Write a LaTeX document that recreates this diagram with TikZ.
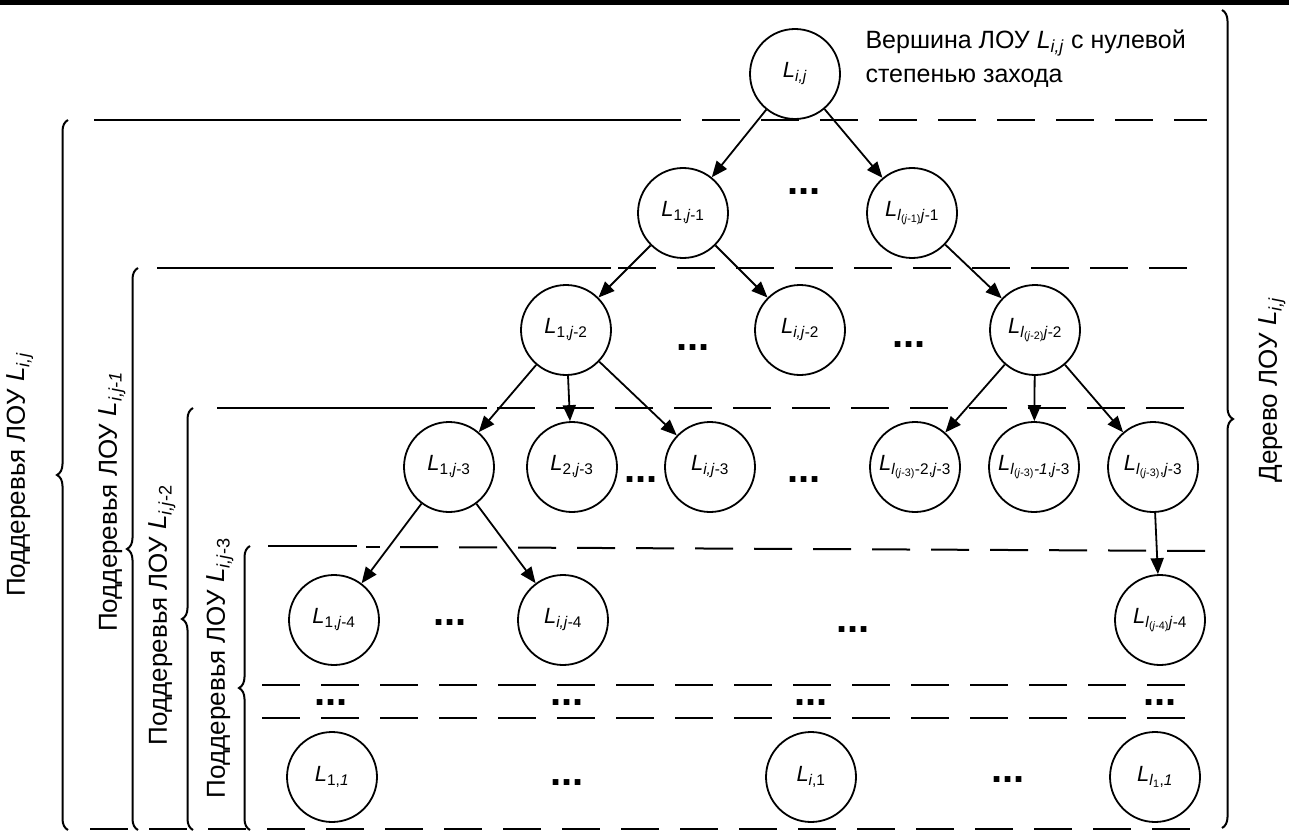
\documentclass[tikz,border=0pt]{standalone}
\usepackage{fontspec}
\setmainfont{Liberation Sans}
\usetikzlibrary{arrows.meta,decorations.pathreplacing}

\newcommand{\Lv}[1]{\textit{L}\textsubscript{#1}}

\begin{document}
\begin{tikzpicture}[x=1pt,y=-1pt,
    vert/.style={draw,circle,line width=1.8pt,minimum size=90pt,inner sep=0pt,font=\fontsize{22}{24}\selectfont},
    edge/.style={line width=1.8pt,-{Triangle[length=16pt,width=13pt]}},
    lvl/.style={line width=2pt,dash pattern=on 38pt off 21pt},
    sep/.style={line width=2pt},
    brc/.style={line width=2pt,decorate,decoration={brace,amplitude=11pt}},
    lbl/.style={rotate=90,font=\fontsize{26}{30}\selectfont},
    dots/.style={font=\fontsize{40}{40}\selectfont\bfseries,inner sep=0pt,anchor=base}]
    \useasboundingbox (0,0) rectangle (1289,834);
    \fill (0,0) rectangle (1289,5);

    \node[vert] (Lij) at (795,74) {\Lv{\textit{i,j}}};
    \node[anchor=north west,align=left,font=\fontsize{25}{34}\selectfont] (top) at (862,26)
        {Вершина ЛОУ \Lv{\textit{i,j}} с нулевой\\степенью захода};

    \node[vert] (L1j1) at (683,213) {\Lv{1,\textit{j}-1}};
    \node[vert] (Llj1) at (912,213) {\Lv{\textit{l}\textsubscript{(\textit{j}-1)}\textit{j}-1}};
    \node[dots] (d1) at (804,195) {...};

    \node[vert] (L1j2) at (566,330) {\Lv{1,\textit{j}-2}};
    \node[vert] (Lij2) at (800,330) {\Lv{\textit{i,j}-2}};
    \node[vert] (Llj2) at (1035,330) {\Lv{\textit{l}\textsubscript{(\textit{j}-2)}\textit{j}-2}};
    \node[dots] (d2) at (693,350) {...};
    \node[dots] (d3) at (909,347) {...};

    \node[vert] (L1j3) at (449,467) {\Lv{1,\textit{j}-3}};
    \node[vert] (L2j3) at (572,467) {\Lv{2,\textit{j}-3}};
    \node[vert] (Lij3) at (710,467) {\Lv{\textit{i,j}-3}};
    \node[vert] (Ll2j3) at (915,467) {\Lv{\textit{l}\textsubscript{(\textit{j}-3)}-2,\textit{j}-3}};
    \node[vert] (Ll1j3) at (1034,467) {\Lv{\textit{l}\textsubscript{(\textit{j}-3)}\textit{-1},\textit{j}-3}};
    \node[vert] (Llj3) at (1153,467) {\Lv{\textit{l}\textsubscript{(\textit{j}-3)},\textit{j}-3}};
    \node[dots] (d4) at (641,482) {...};
    \node[dots] (d5) at (804,482) {...};

    \node[vert] (L1j4) at (334,620) {\Lv{1,\textit{j}-4}};
    \node[vert] (Lij4) at (563,620) {\Lv{\textit{i,j}-4}};
    \node[vert] (Llj4) at (1160,620) {\Lv{\textit{l}\textsubscript{(\textit{j}-4)}\textit{j}-4}};
    \node[dots] (d6) at (450,625) {...};
    \node[dots] (d7) at (853,632) {...};

    \node[dots] (d8) at (331,705) {...};
    \node[dots] (d9) at (567,705) {...};
    \node[dots] (d10) at (811,705) {...};
    \node[dots] (d11) at (1160,705) {...};

    \node[vert] (L11) at (332,777) {\Lv{1,\textit{1}}};
    \node[vert] (Li1) at (811,777) {\Lv{\textit{i},1}};
    \node[vert] (Ll1) at (1155,777) {\Lv{\textit{l}\textsubscript{1},\textit{1}}};
    \node[dots] (d12) at (567,785) {...};
    \node[dots] (d13) at (1008,782) {...};

    \draw[edge] (Lij) -- (L1j1);
    \draw[edge] (Lij) -- (Llj1);
    \draw[edge] (L1j1) -- (L1j2);
    \draw[edge] (L1j1) -- (Lij2);
    \draw[edge] (Llj1) -- (Llj2);
    \draw[edge] (L1j2) -- (L1j3);
    \draw[edge] (L1j2) -- (L2j3);
    \draw[edge] (L1j2) -- (Lij3);
    \draw[edge] (Llj2) -- (Ll2j3);
    \draw[edge] (Llj2) -- (Ll1j3);
    \draw[edge] (Llj2) -- (Llj3);
    \draw[edge] (L1j3) -- (L1j4);
    \draw[edge] (L1j3) -- (Lij4);
    \draw[edge] (Llj3) -- (Llj4);

    \draw[sep] (94,120) -- (681,120);
    \draw[lvl] (702,120) -- (1207,120);
    \draw[sep] (157,268) -- (611,268);
    \draw[lvl] (618,268) -- (1200,268);
    \draw[sep] (217,408) -- (487,408);
    \draw[lvl] (497,408) -- (1200,408);
    \draw[sep] (268,546) -- (357,546);
    \draw[sep] (366,547) -- (380,547);
    \draw[lvl] (400,547) -- (1212,551);
    \draw[lvl] (262,685) -- (1200,685);
    \draw[lvl] (262,718) -- (1200,718);
    \draw[lvl] (90,829) -- (1210,829);

    \draw[brc] (1222,10) -- (1222,828);
    \draw[brc] (68,830) -- (68,120);
    \draw[brc] (138,830) -- (138,268);
    \draw[brc] (193,830) -- (193,408);
    \draw[brc] (250,830) -- (250,546);

    \node[lbl] (tree) at (1272,390) {Дерево ЛОУ \Lv{\textit{i,j}}};
    \node[lbl] (sub0) at (20,475) {Поддеревья ЛОУ \Lv{\textit{i,j}}};
    \node[lbl] (sub1) at (112,502) {Поддеревья ЛОУ \Lv{\textit{i,j-1}}};
    \node[lbl] (sub2) at (162,615) {Поддеревья ЛОУ \Lv{\textit{i,j}-2}};
    \node[lbl] (sub3) at (220,668) {Поддеревья ЛОУ \Lv{\textit{i,j}-3}};
\end{tikzpicture}
\end{document}
